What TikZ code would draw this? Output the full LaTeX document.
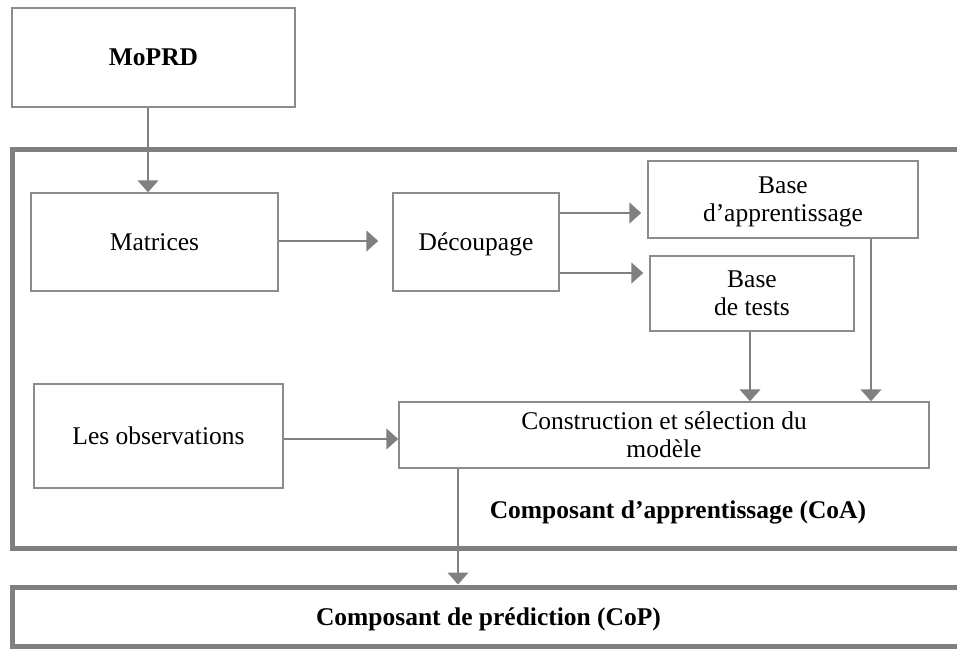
\documentclass[tikz,border=0pt]{standalone}
\usepackage{fontspec}
\setmainfont{Liberation Serif}
\usetikzlibrary{arrows.meta,calc}
\definecolor{lin}{HTML}{808080}
\definecolor{bord}{HTML}{8C8C8C}
\begin{document}
\begin{tikzpicture}[x=1pt,y=-1pt,
  every node/.style={font=\fontsize{25.5}{28}\selectfont, align=center, inner sep=0pt, text depth=0pt},
  boxn/.style={draw=bord, line width=1.5pt, fill=white},
  framen/.style={draw=lin, line width=5pt},
  arr/.style={draw=lin, line width=1.5pt, -{Triangle[width=21pt,length=12pt]}}]
\useasboundingbox (0,0) rectangle (957,648);
% frames
\draw[framen] (12,149.5) rectangle (980,548);
\node[framen, minimum width=953pt, minimum height=59pt] (cop) at (488.5,616.5) {\textbf{Composant de prédiction (CoP)}};
\node (coatxt) at (678,510) {\textbf{Composant d’apprentissage (CoA)}};
% boxes
\node[boxn, minimum width=283pt, minimum height=99pt] (moprd) at (153.5,57.5) {\textbf{MoPRD}};
\node[boxn, minimum width=247pt, minimum height=98pt] (mat) at (154.5,242) {Matrices};
\node[boxn, minimum width=166pt, minimum height=98pt] (dec) at (476,242) {Découpage};
\node[boxn, minimum width=270pt, minimum height=77pt] (ba) at (783,199.5) {Base\\d’apprentissage};
\node[boxn, minimum width=204pt, minimum height=75pt] (bt) at (752,293.5) {Base\\de tests};
\node[boxn, minimum width=249pt, minimum height=104pt] (obs) at (158.5,436) {Les observations};
\node[boxn, minimum width=530pt, minimum height=66pt] (cons) at (664,435) {Construction et sélection du\\modèle};
% connector anchors
\coordinate (d1) at ([yshift=29pt]dec.east);
\coordinate (d2) at ([yshift=-31pt]dec.east);
\coordinate (o1) at ([yshift=-3pt]obs.east);
\coordinate (m1) at ([xshift=-5.5pt]moprd.south);
\coordinate (b1) at ([xshift=88pt]ba.south);
\coordinate (b2) at ([xshift=-2pt]bt.south);
\coordinate (c1) at ([xshift=-206pt]cons.south);
% connectors
\draw[arr] (m1) -- (m1 |- mat.north);
\draw[arr, shorten >=14pt] ([yshift=1pt]mat.east) -- ([yshift=1pt]dec.west);
\draw[arr, shorten >=6pt] (d1) -- (ba.west |- d1);
\draw[arr, shorten >=6pt] (d2) -- (bt.west |- d2);
\draw[arr] (b1) -- (b1 |- cons.north);
\draw[arr] (b2) -- (b2 |- cons.north);
\draw[arr] (o1) -- (cons.west |- o1);
\draw[arr] (c1) -- (c1 |- cop.north);
\end{tikzpicture}
\end{document}
